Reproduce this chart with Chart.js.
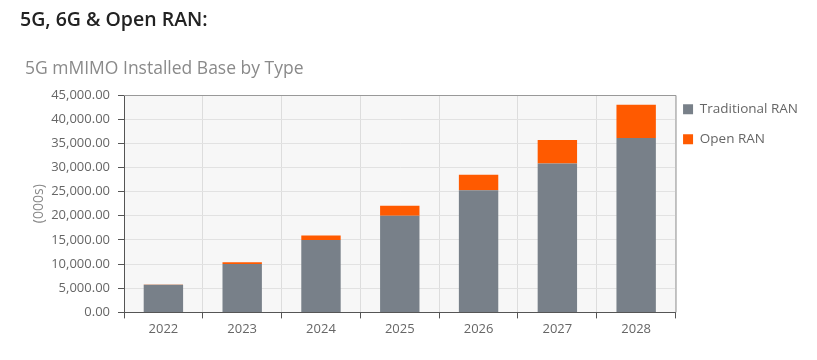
<!DOCTYPE html>
<html><head><meta charset="utf-8">
<script src="https://cdn.jsdelivr.net/npm/chart.js@4.4.1/dist/chart.umd.min.js"></script>
<style>
html,body{margin:0;padding:0;background:#fff;}
#wrap{position:relative;width:817px;height:360px;}
#head{position:absolute;left:20px;top:5px;font-family:"Open Sans";font-size:19.5px;font-weight:600;color:#222;white-space:nowrap;}
#title{position:absolute;left:25px;top:55px;font-family:"Open Sans";font-size:17.5px;color:#8a8a8a;white-space:nowrap;}
canvas{position:absolute;left:0;top:0;}
</style></head>
<body><div id="wrap"><canvas id="c" width="817" height="360"></canvas><div id="head"></div><div id="title"></div></div>
<script>
const heading = "5G, 6G & Open RAN:";
const chartTitle = "5G mMIMO Installed Base by Type";
const categories = ["2022","2023","2024","2025","2026","2027","2028"];
const traditionalRAN = [5700, 10000, 15000, 20000, 25300, 30800, 36100];
const openRAN = [60, 400, 900, 2100, 3200, 4900, 6900];
const seriesNames = ["Traditional RAN", "Open RAN"];
const yAxisTitle = "(000s)";

document.getElementById('head').textContent = heading;
document.getElementById('title').textContent = chartTitle;

const bgPlugin = {
  id: 'bg',
  afterLayout(chart) {
    // pull the legend closer to the plot
    if (chart.legend) { chart.legend.left -= 9; chart.legend.right -= 9; }
  },
  beforeDraw(chart) {
    const {ctx, chartArea: a} = chart;
    ctx.save(); ctx.fillStyle = '#f7f7f7';
    ctx.fillRect(a.left, a.top, a.right - a.left, a.bottom - a.top);
    ctx.restore();
  },
  afterDatasetsDraw(chart) {
    const {ctx, chartArea: a} = chart;
    ctx.save(); ctx.strokeStyle = '#999'; ctx.lineWidth = 1;
    ctx.beginPath();
    ctx.moveTo(a.left, a.top + 0.5); ctx.lineTo(a.right + 0.5, a.top + 0.5); ctx.lineTo(a.right + 0.5, a.bottom);
    ctx.stroke(); ctx.restore();
  }
};

new Chart(document.getElementById('c'), {
  type: 'bar',
  data: {
    labels: categories,
    datasets: [
      {label: seriesNames[0], data: traditionalRAN, backgroundColor: '#788089', barPercentage: 0.5, categoryPercentage: 1},
      {label: seriesNames[1], data: openRAN, backgroundColor: '#ff5a00', barPercentage: 0.5, categoryPercentage: 1}
    ]
  },
  plugins: [bgPlugin],
  options: {
    responsive: false,
    animation: false,
    layout: {padding: {top: 86, left: 27, right: 0, bottom: 20}},
    plugins: {
      legend: {position: 'right', align: 'start',
        labels: {boxWidth: 10, boxHeight: 10, padding: 16.5, color: '#666', font: {family: 'Open Sans', size: 13.5}}},
      tooltip: {enabled: false}
    },
    scales: {
      x: {stacked: true,
        grid: {offset: true, color: '#ddd', tickColor: '#555', tickLength: 6},
        border: {color: '#555'},
        ticks: {color: '#666', font: {family: 'Open Sans', size: 13}}},
      xTop: {type: 'category', position: 'top', display: true,
        grid: {drawOnChartArea: false, drawTicks: true, tickLength: 9, tickColor: 'rgba(0,0,0,0)'},
        border: {display: false},
        ticks: {display: false}},
      y: {stacked: true, min: 0, max: 45000,
        afterFit: s => { s.width = 97; },
        grid: {color: '#e2e2e2', tickColor: '#555', tickLength: 6},
        border: {color: '#555'},
        title: {display: true, text: yAxisTitle, color: '#888', font: {family: 'Open Sans', size: 14}, padding: {top: 4, bottom: 0}},
        ticks: {stepSize: 5000, padding: 8, color: '#666', font: {family: 'Open Sans', size: 13},
          callback: v => Number(v).toLocaleString('en-US', {minimumFractionDigits: 2, maximumFractionDigits: 2})}}
    }
  }
});
</script></body></html>
